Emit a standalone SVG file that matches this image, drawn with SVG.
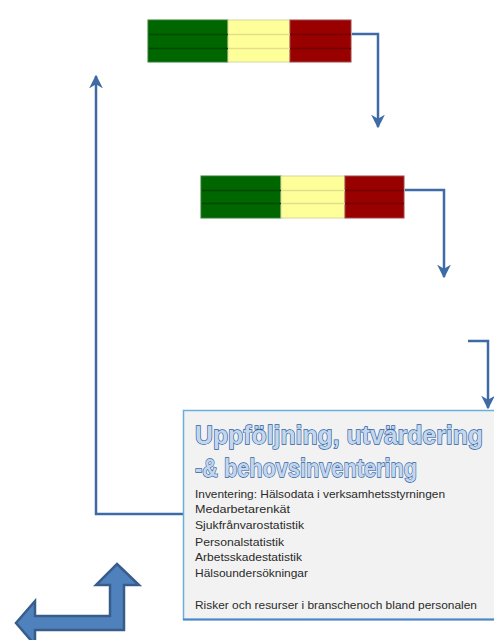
<svg xmlns="http://www.w3.org/2000/svg" width="494" height="640" viewBox="0 0 494 640">
<style>
.conn{fill:none;stroke:#3e6aa6;stroke-width:2.5;stroke-linejoin:miter}
.g{fill:#006600;stroke:#2e7d32;stroke-width:1}
.y{fill:#ffff99;stroke:#d6d6a0;stroke-width:1}
.r{fill:#990000;stroke:#a04848;stroke-width:1}
.gl{stroke:#004a00;stroke-width:1.5}
.yl{stroke:#e0e08a;stroke-width:1.5}
.rl{stroke:#760000;stroke-width:1.5}
.title{font-family:"Liberation Sans",Arial,sans-serif;font-weight:bold;font-size:25px;fill:#c2d6ee;stroke:#2f5f9e;stroke-width:1.3;paint-order:stroke}
.body{font-family:"Liberation Sans",Arial,sans-serif;font-size:11px;fill:#2a2a2a}
</style>
<defs>
<marker id="ah" viewBox="0 0 10 10" refX="9" refY="5" markerWidth="5.5" markerHeight="5.5" orient="auto" markerUnits="strokeWidth">
<path d="M0,0 L10,5 L0,10 L3,5 Z" fill="#3e6aa6"/>
</marker>
</defs>
<rect width="494" height="640" fill="#ffffff"/>

<g id="connectors">
<path class="conn" d="M352,34 H378 V127" marker-end="url(#ah)"/>
<path class="conn" d="M405,190 H444 V277" marker-end="url(#ah)"/>
<path class="conn" d="M468,341 H488 V408" marker-end="url(#ah)"/>
<path class="conn" d="M183,514 H96 V76" marker-end="url(#ah)"/>
</g>

<g id="bar1">
<rect class="g" x="148" y="20" width="80" height="42"/>
<rect class="y" x="228" y="20" width="62" height="42"/>
<rect class="r" x="290" y="20" width="61" height="42"/>
<line class="gl" x1="149" y1="34.5" x2="228" y2="34.5"/><line class="gl" x1="149" y1="48.5" x2="228" y2="48.5"/>
<line class="yl" x1="228" y1="34.5" x2="290" y2="34.5"/><line class="yl" x1="228" y1="48.5" x2="290" y2="48.5"/>
<line class="rl" x1="290" y1="34.5" x2="351" y2="34.5"/><line class="rl" x1="290" y1="48.5" x2="351" y2="48.5"/>
</g>

<g id="bar2">
<rect class="g" x="201" y="176" width="80" height="42"/>
<rect class="y" x="281" y="176" width="64" height="42"/>
<rect class="r" x="345" y="176" width="59" height="42"/>
<line class="gl" x1="202" y1="190.5" x2="281" y2="190.5"/><line class="gl" x1="202" y1="203.5" x2="281" y2="203.5"/>
<line class="yl" x1="281" y1="190.5" x2="345" y2="190.5"/><line class="yl" x1="281" y1="203.5" x2="345" y2="203.5"/>
<line class="rl" x1="345" y1="190.5" x2="404" y2="190.5"/><line class="rl" x1="345" y1="203.5" x2="404" y2="203.5"/>
</g>

<g id="infobox">
<rect x="183.5" y="410.5" width="316" height="209" fill="#f2f2f2" stroke="#6aaee0" stroke-width="1.5"/>
<line x1="183" y1="619.5" x2="494" y2="619.5" stroke="#4a86c5" stroke-width="2"/>
<text class="title" x="195" y="444" textLength="288" lengthAdjust="spacingAndGlyphs">Uppföljning, utvärdering</text>
<text class="title" x="195" y="477" textLength="222" lengthAdjust="spacingAndGlyphs">-&amp; behovsinventering</text>
<text class="body" x="195" y="498" textLength="250" lengthAdjust="spacingAndGlyphs">Inventering: Hälsodata i verksamhetsstyrningen</text>
<text class="body" x="195" y="513" textLength="95" lengthAdjust="spacingAndGlyphs">Medarbetarenkät</text>
<text class="body" x="195" y="529" textLength="109" lengthAdjust="spacingAndGlyphs">Sjukfrånvarostatistik</text>
<text class="body" x="195" y="546" textLength="89" lengthAdjust="spacingAndGlyphs">Personalstatistik</text>
<text class="body" x="195" y="561" textLength="107" lengthAdjust="spacingAndGlyphs">Arbetsskadestatistik</text>
<text class="body" x="195" y="577" textLength="113" lengthAdjust="spacingAndGlyphs">Hälsoundersökningar</text>
<text class="body" x="195" y="609" textLength="282" lengthAdjust="spacingAndGlyphs">Risker och resurser i branschenoch bland personalen</text>
</g>

<g id="bentarrow">
<path d="M117,564 L139,585 L124,585 L124,630 L35,630 L35,645 L16,623 L35,601 L35,616 L110,616 L110,585 L96,585 Z" fill="#4f81bd" stroke="#385d8a" stroke-width="2.5" stroke-linejoin="miter"/>
</g>
</svg>
